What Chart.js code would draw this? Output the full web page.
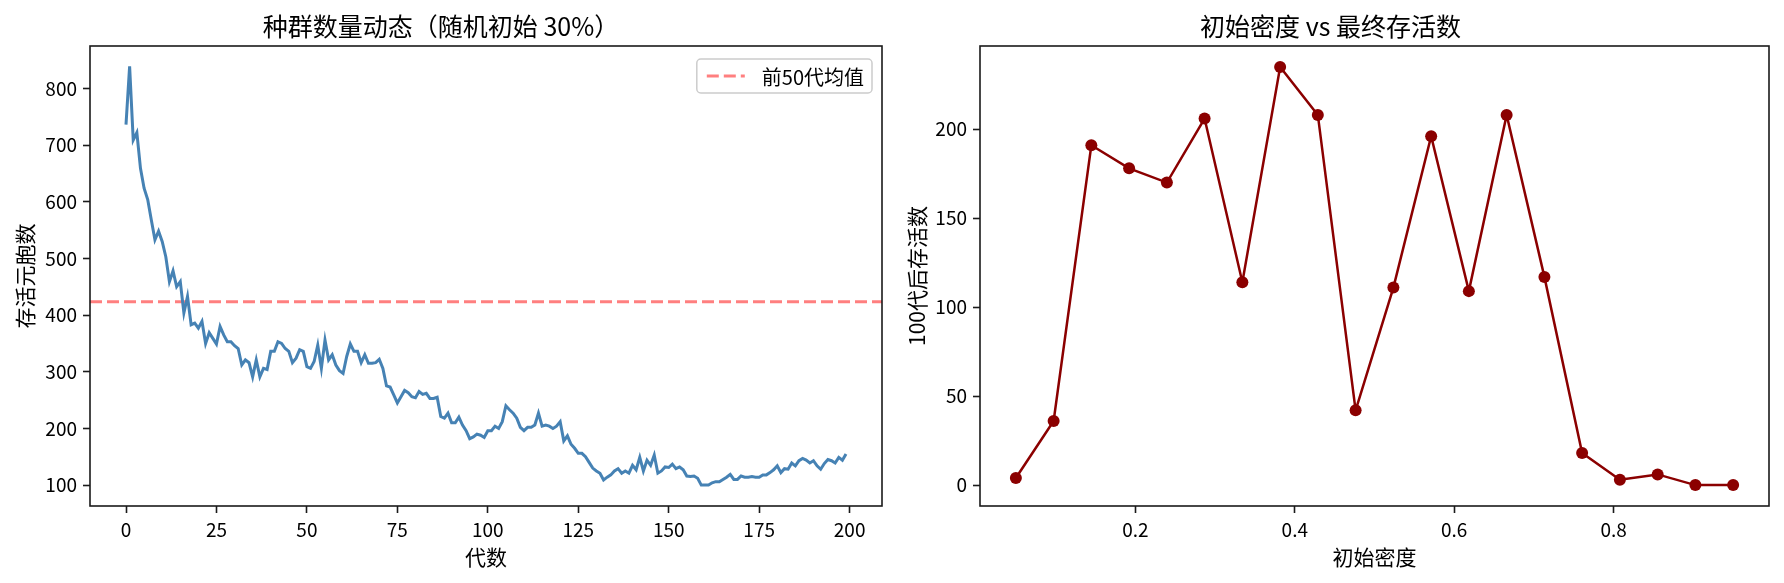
<!DOCTYPE html>
<html>
<head>
<meta charset="utf-8">
<script src="https://cdn.jsdelivr.net/npm/chart.js@4/dist/chart.umd.min.js"></script>
<style>
  html, body { margin: 0; padding: 0; background: #fff; overflow: hidden; }
  #wrap { position: relative; width: 1784px; height: 583px; }
  canvas { position: absolute; top: 0; }
</style>
</head>
<body>
<div id="wrap">
  <canvas id="popChart" width="892" height="583" style="left:0"></canvas>
  <canvas id="densChart" width="892" height="583" style="left:892px"></canvas>
</div>
<script>
// 左图：每代存活元胞数（第 0 代到第 199 代）
const populationCounts = [
  736, 839, 709, 722, 659, 624, 604, 568, 533, 548,
  530, 503, 459, 478, 450, 459, 404, 433, 383, 386,
  377, 389, 350, 369, 359, 349, 380, 365, 353, 353,
  346, 341, 312, 321, 316, 291, 321, 291, 306, 304,
  336, 336, 353, 350, 341, 336, 316, 324, 339, 336,
  309, 306, 318, 347, 306, 356, 321, 330, 312, 302,
  297, 327, 349, 336, 336, 316, 330, 315, 315, 316,
  322, 306, 275, 273, 259, 245, 256, 267, 263, 256,
  254, 265, 260, 262, 253, 253, 255, 221, 218, 227,
  210, 210, 220, 206, 196, 182, 185, 190, 188, 184,
  196, 196, 204, 200, 212, 240, 233, 227, 218, 202,
  196, 202, 202, 206, 227, 204, 206, 204, 200, 204,
  212, 178, 187, 172, 165, 156, 156, 150, 140, 130,
  125, 121, 109, 114, 118, 125, 129, 121, 125, 121,
  135, 127, 149, 125, 144, 135, 153, 121, 125, 132,
  131, 137, 129, 132, 127, 116, 115, 116, 112, 100,
  100, 100, 104, 106, 106, 110, 114, 119, 110, 110,
  116, 114, 114, 115, 114, 114, 118, 118, 122, 127,
  134, 122, 129, 128, 139, 134, 143, 147, 144, 139,
  143, 134, 128, 138, 145, 143, 139, 149, 144, 155
];
const generations = populationCounts.map((_, i) => i);

// 右图：初始密度 与 100 代后存活数
const densities = [0.05, 0.0974, 0.1447, 0.1921, 0.2395, 0.2868, 0.3342, 0.3816, 0.4289, 0.4763,
                   0.5237, 0.5711, 0.6184, 0.6658, 0.7132, 0.7605, 0.8079, 0.8553, 0.9026, 0.95];
const survivors = [4, 36, 191, 178, 170, 206, 114, 235, 208, 42,
                   111, 196, 109, 208, 117, 18, 3, 6, 0, 0];

// 刻度
const popXTicks = [0, 25, 50, 75, 100, 125, 150, 175, 200];
const popYTicks = [100, 200, 300, 400, 500, 600, 700, 800];
const densXTicks = [0.2, 0.4, 0.6, 0.8];
const densYTicks = [0, 50, 100, 150, 200];

const mean50 = populationCounts.slice(0, 50).reduce((a, b) => a + b, 0) / 50;

Chart.defaults.font.family = '"Noto Sans CJK SC", "Noto Sans", sans-serif';
Chart.defaults.color = '#000';

const INK = '#1a1a1a';

// 坐标轴四边框
const frameBox = {
  id: 'frameBox',
  afterDatasetsDraw(chart) {
    const a = chart.chartArea, ctx = chart.ctx;
    ctx.save();
    ctx.strokeStyle = INK;
    ctx.lineWidth = 1.6;
    ctx.strokeRect(a.left, a.top, a.right - a.left, a.bottom - a.top);
    ctx.restore();
  }
};

// 图内右上角图例
const innerLegend = {
  id: 'innerLegend',
  afterDraw(chart) {
    const ds = chart.data.datasets.find(d => d.showInLegend);
    if (!ds) return;
    const a = chart.chartArea, ctx = chart.ctx;
    ctx.save();
    ctx.font = '20px "Noto Sans CJK SC", sans-serif';
    const tw = ctx.measureText(ds.label).width;
    const pad = 8, handle = 40, gap = 17, h = 34;
    const w = pad + handle + gap + tw + pad;
    const x = a.right - 10 - w, y = a.top + 13;
    ctx.beginPath();
    ctx.roundRect(x, y, w, h, 4);
    ctx.fillStyle = 'rgba(255,255,255,0.8)';
    ctx.fill();
    ctx.strokeStyle = '#cccccc';
    ctx.lineWidth = 1.5;
    ctx.stroke();
    ctx.beginPath();
    ctx.setLineDash(ds.borderDash);
    ctx.strokeStyle = ds.borderColor;
    ctx.lineWidth = ds.borderWidth;
    ctx.moveTo(x + pad + 2, y + h / 2);
    ctx.lineTo(x + pad + handle, y + h / 2);
    ctx.stroke();
    ctx.setLineDash([]);
    ctx.fillStyle = '#000';
    ctx.textBaseline = 'middle';
    ctx.fillText(ds.label, x + pad + handle + gap, y + h / 2 + 1);
    ctx.restore();
  }
};

function axisStyle(extra) {
  return Object.assign({
    type: 'linear',
    border: { display: false },
    grid: { display: true, drawOnChartArea: false, drawTicks: true, tickLength: 7, tickWidth: 1.6, tickColor: INK },
  }, extra);
}

function tickFont() { return { size: 19 }; }
function labelFont() { return { size: 21 }; }

const X_MIN = -9.95, X_MAX = 208.95;

new Chart(document.getElementById('popChart'), {
  type: 'line',
  data: {
    datasets: [
      {
        label: '存活元胞数',
        data: generations.map((g, i) => ({ x: g, y: populationCounts[i] })),
        borderColor: '#4682B4',
        borderWidth: 3,
        pointRadius: 0,
        tension: 0
      },
      {
        label: '前50代均值',
        showInLegend: true,
        data: [{ x: X_MIN, y: mean50 }, { x: X_MAX, y: mean50 }],
        borderColor: 'rgba(255,0,0,0.5)',
        borderDash: [12, 5],
        borderWidth: 3,
        pointRadius: 0
      }
    ]
  },
  options: {
    responsive: false,
    animation: false,
    devicePixelRatio: 1,
    layout: { padding: { left: 0, right: 10, top: 0, bottom: 0 } },
    plugins: {
      legend: { display: false },
      tooltip: { enabled: false },
      title: {
        display: true,
        text: '种群数量动态（随机初始 30%）',
        font: { size: 25, weight: 'normal' },
        color: '#000',
        padding: { top: 11, bottom: 5 }
      }
    },
    scales: {
      x: axisStyle({
        min: X_MIN, max: X_MAX,
        afterBuildTicks: s => { s.ticks = popXTicks.map(v => ({ value: v })); },
        afterFit: s => { s.height = 77; },
        ticks: { font: tickFont(), padding: 5, maxRotation: 0, color: '#000' },
        title: { display: true, text: '代数', font: labelFont(), color: '#000', padding: { top: 0, bottom: 13 } }
      }),
      y: axisStyle({
        min: 63.1, max: 874.9,
        afterBuildTicks: s => { s.ticks = popYTicks.map(v => ({ value: v })); },
        afterFit: s => { s.width = 90; },
        ticks: { font: tickFont(), padding: 6, color: '#000' },
        title: { display: true, text: '存活元胞数', font: labelFont(), color: '#000', padding: { top: 12, bottom: 0 } }
      })
    }
  },
  plugins: [frameBox, innerLegend]
});

new Chart(document.getElementById('densChart'), {
  type: 'line',
  data: {
    datasets: [{
      label: '100代后存活数',
      data: densities.map((d, i) => ({ x: d, y: survivors[i] })),
      borderColor: '#8B0000',
      backgroundColor: '#8B0000',
      borderWidth: 2.5,
      pointRadius: 6,
      pointBorderWidth: 0,
      pointBackgroundColor: '#8B0000',
      tension: 0,
      clip: false
    }]
  },
  options: {
    responsive: false,
    animation: false,
    devicePixelRatio: 1,
    layout: { padding: { left: 0, right: 15, top: 0, bottom: 0 } },
    plugins: {
      legend: { display: false },
      tooltip: { enabled: false },
      title: {
        display: true,
        text: '初始密度 vs 最终存活数',
        font: { size: 25, weight: 'normal' },
        color: '#000',
        padding: { top: 11, bottom: 5 }
      }
    },
    scales: {
      x: axisStyle({
        min: 0.005, max: 0.995,
        afterBuildTicks: s => { s.ticks = densXTicks.map(v => ({ value: v })); },
        afterFit: s => { s.height = 77; },
        ticks: { font: tickFont(), padding: 5, maxRotation: 0, color: '#000', callback: v => v.toFixed(1) },
        title: { display: true, text: '初始密度', font: labelFont(), color: '#000', padding: { top: 0, bottom: 13 } }
      }),
      y: axisStyle({
        min: -11.75, max: 246.75,
        afterBuildTicks: s => { s.ticks = densYTicks.map(v => ({ value: v })); },
        afterFit: s => { s.width = 88; },
        ticks: { font: tickFont(), padding: 6, color: '#000' },
        title: { display: true, text: '100代后存活数', font: labelFont(), color: '#000', padding: { top: 12, bottom: 0 } }
      })
    }
  },
  plugins: [frameBox]
});
</script>
</body>
</html>
